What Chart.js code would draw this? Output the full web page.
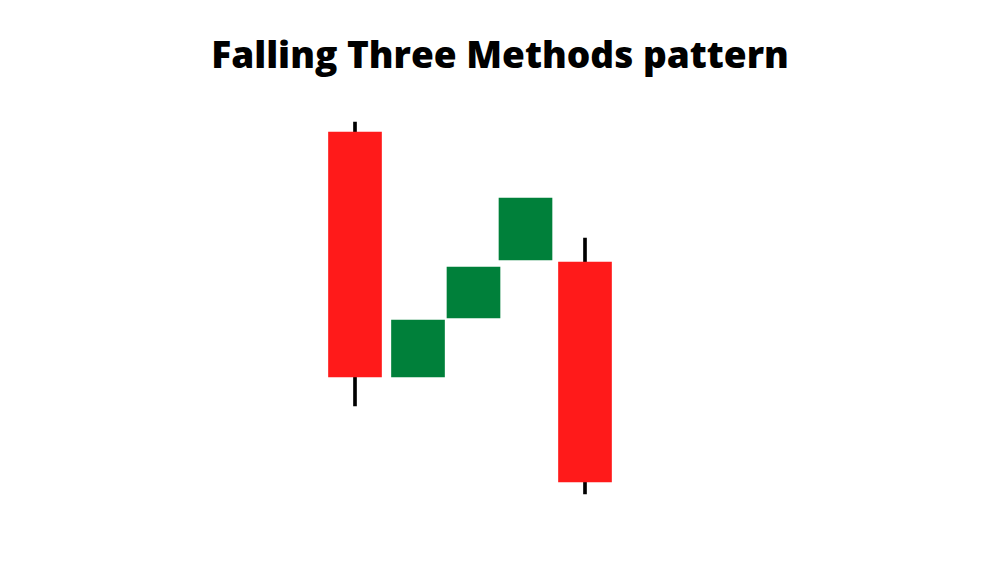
<!DOCTYPE html>
<html>
<head>
<meta charset="utf-8">
<script src="https://cdn.jsdelivr.net/npm/chart.js@4"></script>
<style>
  html, body { margin: 0; padding: 0; background: #fff; }
  #wrap { position: relative; width: 1000px; height: 563px; }
  #title {
    position: absolute; left: 0; top: 35px; width: 1000px;
    text-align: center; font-family: "Open Sans", sans-serif;
    font-weight: 800; font-size: 37px; line-height: 37px; color: #000;
  }
  canvas { position: absolute; left: 0; top: 0; }
</style>
</head>
<body>
<div id="wrap">
  <div id="title">Falling Three Methods pattern</div>
  <canvas id="chart" width="1000" height="563"></canvas>
</div>
<script>
// candle positions along the x axis
const positions = [3.55, 4.18, 4.735, 5.255, 5.85];
const opens  = [97,   35.75, 50.5,  65,   64.5];
const closes = [35.75, 50,   63.25, 80.5, 9.5];
const highs  = [99.5, 50,    63.25, 80.5, 70.5];
const lows   = [28.5, 35.75, 50.5,  65,   6.5];

const RED = '#ff1a1a';
const GREEN = '#00803a';

// only the two red candles have visible wicks
const wickData = positions
  .map((x, i) => ({ x, y: [lows[i], highs[i]], show: i === 0 || i === 4 }))
  .filter(d => d.show)
  .map(d => ({ x: d.x, y: d.y }));

const bodyData = positions.map((x, i) => ({ x, y: [opens[i], closes[i]] }));
const bodyColors = positions.map((x, i) => closes[i] < opens[i] ? RED : GREEN);

new Chart(document.getElementById('chart'), {
  type: 'bar',
  data: {
    datasets: [
      {
        label: 'Wick',
        data: wickData,
        backgroundColor: '#000',
        barThickness: 3,
        order: 2
      },
      {
        label: 'Body',
        data: bodyData,
        backgroundColor: bodyColors,
        barThickness: 53,
        order: 1
      }
    ]
  },
  options: {
    responsive: false,
    animation: false,
    devicePixelRatio: 1,
    layout: { padding: { top: 100, bottom: 43, left: 0, right: 0 } },
    datasets: { bar: { grouped: false, borderWidth: 0, borderSkipped: false } },
    scales: {
      x: { type: 'linear', min: 0, max: 10, offset: false, display: false },
      y: { min: 0, max: 105, display: false }
    },
    plugins: {
      legend: { display: false },
      tooltip: { enabled: false }
    }
  }
});
</script>
</body>
</html>
